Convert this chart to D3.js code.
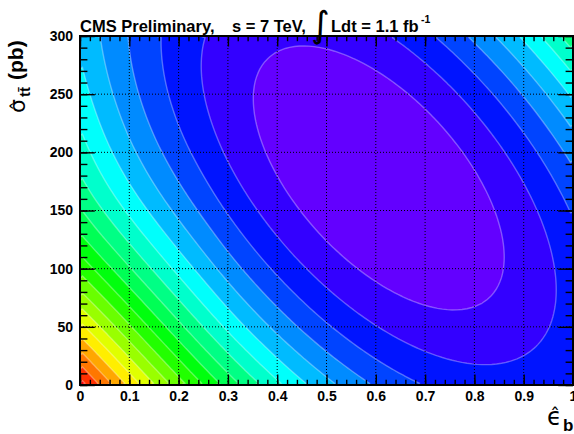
<!DOCTYPE html>
<html><head><meta charset="utf-8">
<script src="https://cdn.jsdelivr.net/npm/d3@7"></script>
<style>
html,body{margin:0;padding:0;background:#fff;}
svg{display:block;}
text{font-family:"Liberation Sans",Arial,Helvetica,sans-serif;font-weight:bold;fill:#000;}
</style></head><body>
<svg id="chart" width="574" height="434"></svg>
<script>
// ---------------- data ----------------
const xDomain = [0, 1];
const yDomain = [0, 300];
const xTickValues = [0, 0.1, 0.2, 0.3, 0.4, 0.5, 0.6, 0.7, 0.8, 0.9, 1];
const xTickLabels = ["0", "0.1", "0.2", "0.3", "0.4", "0.5", "0.6", "0.7", "0.8", "0.9", "1"];
const yTickValues = [0, 50, 100, 150, 200, 250, 300];
const yTickLabels = ["0", "50", "100", "150", "200", "250", "300"];
// likelihood surface: minimum position, one-level half widths, correlation
const fitCenter = [0.606, 178];
const fitHalfWidth = [0.2546, 113.5];
const fitCorrelation = [-0.6];
// flattening of the outer contours near the left edge: [depth, onset u, centre v, width v]
const leftFlattening = [1.0, 1.3, -0.45, 0.85];
// contour levels (20 equal bands above the minimum)
const contourLevels = [1, 2, 3, 4, 5, 6, 7, 8, 9, 10, 11, 12, 13, 14, 15, 16, 17, 18, 19];
const bandColors = ["#6300ff", "#3300ff", "#0014ff", "#0044ff", "#008bff", "#00bbff", "#00fffc",
  "#00ffcc", "#00ff85", "#00ff55", "#00ff0e", "#22ff00", "#69ff00", "#99ff00", "#e0ff00",
  "#ffee00", "#ffa700", "#ff7700", "#ff3000", "#ff0000"];
const gridBins = [100, 100];
const titleParts = ["CMS Preliminary,", "s = 7 TeV,", "\u222B", "Ldt = 1.1 fb", "-1"];

// ---------------- layout ----------------
const plot = {left: 80, right: 573, top: 36, bottom: 385};
const svg = d3.select("#chart");
const x = d3.scaleLinear().domain(xDomain).range([plot.left, plot.right]);
const y = d3.scaleLinear().domain(yDomain).range([plot.bottom, plot.top]);

svg.append("defs").append("clipPath").attr("id", "clip")
  .append("rect").attr("x", plot.left).attr("y", plot.top)
  .attr("width", plot.right - plot.left).attr("height", plot.bottom - plot.top);

// ---------------- surface values on a grid ----------------
const nx = gridBins[0], ny = gridBins[1];
const rho = fitCorrelation[0];
const uEdge = (xDomain[0] - fitCenter[0]) / fitHalfWidth[0];
const lNorm = Math.pow(-(uEdge + leftFlattening[1]), 2);
const values = new Array(nx * ny);
for (let j = 0; j < ny; j++) {
  for (let i = 0; i < nx; i++) {
    const e = xDomain[0] + (i + 0.5) / nx * (xDomain[1] - xDomain[0]);
    const s = yDomain[1] - (j + 0.5) / ny * (yDomain[1] - yDomain[0]);
    const u = (e - fitCenter[0]) / fitHalfWidth[0];
    const v = (s - fitCenter[1]) / fitHalfWidth[1];
    const q = (u * u - 2 * rho * u * v + v * v) / (1 - rho * rho);
    const l = Math.pow(Math.max(0, -(u + leftFlattening[1])), 2) / lNorm;
    const g = Math.exp(-Math.pow((v - leftFlattening[2]) / leftFlattening[3], 2));
    values[j * nx + i] = q - leftFlattening[0] * l * g;
  }
}
const thresholds = [d3.min(values) - 1].concat(contourLevels);
const contours = d3.contours().size([nx, ny]).thresholds(thresholds)(values);
const proj = d3.geoTransform({
  point: function (px, py) {
    this.stream.point(
      x(xDomain[0] + px / nx * (xDomain[1] - xDomain[0])),
      y(yDomain[1] - py / ny * (yDomain[1] - yDomain[0])));
  }
});
const path = d3.geoPath(proj);
const gC = svg.append("g").attr("clip-path", "url(#clip)");
gC.selectAll("path.band").data(contours).join("path")
  .attr("class", "band")
  .attr("d", path)
  .attr("fill", (d, k) => bandColors[k])
  .attr("stroke", (d, k) => k === 0 ? "none" : "rgba(255,255,255,0.32)")
  .attr("stroke-width", 1.4);

// ---------------- grid ----------------
const gG = svg.append("g").attr("stroke", "#000").attr("stroke-width", 1)
  .attr("stroke-dasharray", "1,2");
gG.selectAll("line.gx").data(xTickValues.slice(1, -1)).join("line")
  .attr("x1", d => x(d)).attr("x2", d => x(d))
  .attr("y1", plot.top).attr("y2", plot.bottom);
gG.selectAll("line.gy").data(yTickValues.slice(1, -1)).join("line")
  .attr("y1", d => y(d)).attr("y2", d => y(d))
  .attr("x1", plot.left).attr("x2", plot.right);

// ---------------- axes ----------------
const xMaj = 10.5, xMin = 5.2, yMaj = 14.8, yMin = 7.4;
const xMinor = d3.range(0, 51).map(k => k * 0.02);
const yMinor = d3.range(0, 31).map(k => k * 10);
function styleAxis(g) {
  g.select(".domain").remove();
  g.selectAll("line").attr("stroke", "#000").attr("stroke-width", 1.4);
  g.selectAll("text").style("font-size", "14px").style("font-weight", "bold")
    .style("font-family", '"Liberation Sans",Arial,sans-serif').attr("fill", "#000");
}
svg.append("g").attr("transform", `translate(0,${plot.bottom})`)
  .call(d3.axisBottom(x).tickValues(xMinor).tickSize(-xMin).tickFormat("")).call(styleAxis);
svg.append("g").attr("transform", `translate(0,${plot.bottom})`)
  .call(d3.axisBottom(x).tickValues(xTickValues).tickSize(-xMaj).tickPadding(6)
    .tickFormat((d, i) => xTickLabels[i])).call(styleAxis);
svg.append("g").attr("transform", `translate(0,${plot.top})`)
  .call(d3.axisTop(x).tickValues(xMinor).tickSize(-xMin).tickFormat("")).call(styleAxis);
svg.append("g").attr("transform", `translate(0,${plot.top})`)
  .call(d3.axisTop(x).tickValues(xTickValues).tickSize(-xMaj).tickFormat("")).call(styleAxis);
svg.append("g").attr("transform", `translate(${plot.left},0)`)
  .call(d3.axisLeft(y).tickValues(yMinor).tickSize(-yMin).tickFormat("")).call(styleAxis);
svg.append("g").attr("transform", `translate(${plot.left},0)`)
  .call(d3.axisLeft(y).tickValues(yTickValues).tickSize(-yMaj).tickPadding(7)
    .tickFormat((d, i) => yTickLabels[i])).call(styleAxis);
svg.append("g").attr("transform", `translate(${plot.right},0)`)
  .call(d3.axisRight(y).tickValues(yMinor).tickSize(-yMin).tickFormat("")).call(styleAxis);
svg.append("g").attr("transform", `translate(${plot.right},0)`)
  .call(d3.axisRight(y).tickValues(yTickValues).tickSize(-yMaj).tickFormat("")).call(styleAxis);

svg.append("rect").attr("x", plot.left).attr("y", plot.top)
  .attr("width", plot.right - plot.left).attr("height", plot.bottom - plot.top)
  .attr("fill", "none").attr("stroke", "#000").attr("stroke-width", 2);

// ---------------- title ----------------
const tfs = 16.5;
svg.append("text").attr("x", 80).attr("y", 32).style("font-size", tfs + "px").text(titleParts[0]);
svg.append("text").attr("x", 232).attr("y", 32).style("font-size", tfs + "px").text(titleParts[1]);
svg.append("text").attr("x", 311).attr("y", 37).style("font-size", "36px")
  .style("font-family", '"DejaVu Sans",sans-serif').style("font-weight", "normal").text(titleParts[2]);
svg.append("text").attr("x", 331).attr("y", 32).style("font-size", tfs + "px").text(titleParts[3]);
svg.append("text").attr("x", 421).attr("y", 23).style("font-size", "10.5px").text(titleParts[4]);

// ---------------- axis titles ----------------
const gy = svg.append("g").attr("transform", "translate(25,0) rotate(-90)");
gy.append("text").attr("x", -113).attr("y", 0).style("font-size", "22px")
  .style("font-family", '"DejaVu Sans",sans-serif').style("font-weight", "normal").text("\u03C3");
gy.append("text").attr("x", -106).attr("y", 0).attr("text-anchor", "middle").style("font-size", "20px")
  .style("font-family", '"DejaVu Sans",sans-serif').style("font-weight", "normal").text("\u02C6");
gy.append("text").attr("x", -97).attr("y", 5).style("font-size", "15px").text("tt\u0304");
gy.append("text").attr("x", -80).attr("y", -2).style("font-size", "21px").text("(pb)");

svg.append("text").attr("x", 547).attr("y", 425).style("font-size", "24px")
  .style("font-family", '"DejaVu Sans",sans-serif').style("font-weight", "normal").text("\u03F5");
svg.append("text").attr("x", 555).attr("y", 422).attr("text-anchor", "middle").style("font-size", "20px")
  .style("font-family", '"DejaVu Sans",sans-serif').style("font-weight", "normal").text("\u02C6");
svg.append("text").attr("x", 563).attr("y", 431).style("font-size", "17px").text("b");
</script>
</body></html>
